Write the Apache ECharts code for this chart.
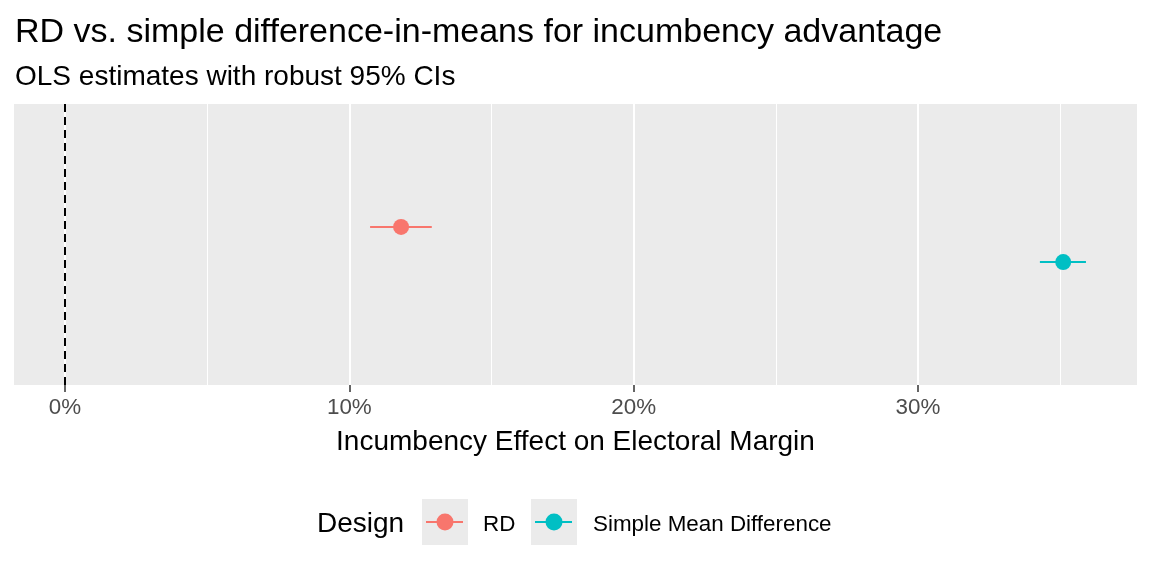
<!DOCTYPE html>
<html>
<head>
<meta charset="utf-8">
<script src="https://cdn.jsdelivr.net/npm/echarts@6/dist/echarts.min.js"></script>
<style>
  html, body { margin: 0; padding: 0; background: #fff; }
  #chart { width: 1152px; height: 576px; }
</style>
</head>
<body>
<div id="chart"></div>
<script>
// data
const designs = ['RD', 'Simple Mean Difference'];
const estimates = [11.82, 35.11];
const ciLow = [10.73, 34.29];
const ciHigh = [12.90, 35.91];
const dodgeY = [0.075, -0.075];   // position_dodge offsets inside the single row
const colors = ['#F8766D', '#00BFC4'];
const majorTicks = [0, 10, 20, 30];
const minorTicks = [5, 15, 25, 35];

const FONT = '"Liberation Sans", Arial, sans-serif';

// ggplot default expansion (5%) over the data range incl. the vline at 0
const xMin = 0 - 0.05 * (ciHigh[1] - 0);
const xMax = ciHigh[1] + 0.05 * (ciHigh[1] - 0);

const chart = echarts.init(document.getElementById('chart'));

const gridLines = [];
minorTicks.forEach(v => gridLines.push({ xAxis: v, lineStyle: { color: '#fff', width: 1, type: 'solid' } }));
majorTicks.forEach(v => gridLines.push({ xAxis: v, lineStyle: { color: '#fff', width: 2, type: 'solid' } }));

const series = [
  {
    type: 'scatter', data: [], silent: true, z: 1,
    markLine: { silent: true, symbol: 'none', label: { show: false }, animation: false, data: gridLines }
  },
  {
    type: 'scatter', data: [], silent: true, z: 2,
    markLine: {
      silent: true, symbol: 'none', label: { show: false }, animation: false,
      data: [{ xAxis: 0, lineStyle: { color: '#000', width: 2, type: [8, 5] } }]
    }
  }
];

designs.forEach((d, i) => {
  // CI line
  series.push({
    name: d, type: 'line', z: 5, symbol: 'none', silent: true, animation: false,
    lineStyle: { color: colors[i], width: 2 },
    data: [[ciLow[i], dodgeY[i]], [ciHigh[i], dodgeY[i]]]
  });
  // point estimate
  series.push({
    name: d, type: 'scatter', z: 10, symbolSize: 16, animation: false,
    itemStyle: { color: colors[i], opacity: 1 },
    data: [[estimates[i], dodgeY[i]]]
  });
});

// legend (drawn by hand, ggplot style keys)
const legendY = 522;
const legendItems = [];
legendItems.push({ type: 'text', left: 317, top: legendY - 12,
  style: { text: 'Design', font: '28px ' + FONT, fill: '#000' } });
const keyX = [422, 531];
const labelX = [483, 593];
designs.forEach((d, i) => {
  legendItems.push({ type: 'rect', shape: { x: keyX[i], y: legendY - 23, width: 46, height: 46 },
    style: { fill: '#EBEBEB' } });
  legendItems.push({ type: 'line', shape: { x1: keyX[i] + 4, y1: legendY, x2: keyX[i] + 41, y2: legendY },
    style: { stroke: colors[i], lineWidth: 2 } });
  legendItems.push({ type: 'circle', shape: { cx: keyX[i] + 23, cy: legendY, r: 8.5 },
    style: { fill: colors[i] } });
  legendItems.push({ type: 'text', left: labelX[i], top: legendY - 8,
    style: { text: d, font: '22.4px ' + FONT, fill: '#000' } });
});

chart.setOption({
  animation: false,
  textStyle: { fontFamily: FONT },
  title: [
    { text: 'RD vs. simple difference-in-means for incumbency advantage', left: 10, top: 11,
      textStyle: { fontSize: 34, fontWeight: 'normal', color: '#000', fontFamily: FONT } },
    { text: 'OLS estimates with robust 95% CIs', left: 10, top: 58,
      textStyle: { fontSize: 28, fontWeight: 'normal', color: '#000', fontFamily: FONT } }
  ],
  grid: { left: 14, right: 15, top: 104, bottom: 191, show: true, backgroundColor: '#EBEBEB', borderWidth: 0 },
  xAxis: {
    type: 'value', min: xMin, max: xMax,
    name: 'Incumbency Effect on Electoral Margin', nameLocation: 'middle', nameGap: 43,
    nameTextStyle: { fontSize: 28, color: '#000', fontFamily: FONT },
    axisLine: { show: true, onZero: false, lineStyle: { color: 'rgba(0,0,0,0)' } },
    axisTick: { show: true, length: 7, lineStyle: { color: '#333', width: 1.5 }, customValues: majorTicks },
    axisLabel: { fontSize: 22.4, color: '#4D4D4D', margin: 12, fontFamily: FONT,
      customValues: majorTicks, formatter: v => v + '%' },
    splitLine: { show: false }
  },
  yAxis: {
    type: 'value', min: -0.6, max: 0.6,
    axisLine: { show: false }, axisTick: { show: false }, axisLabel: { show: false }, splitLine: { show: false }
  },
  series: series,
  graphic: legendItems
});
</script>
</body>
</html>
